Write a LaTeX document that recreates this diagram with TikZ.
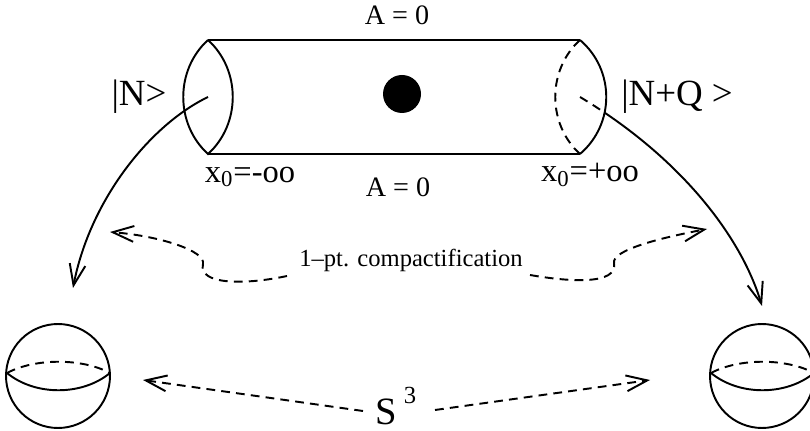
\documentclass[tikz,border=0pt]{standalone}
\usepackage{fontspec}
\setmainfont{Liberation Serif}
\usetikzlibrary{arrows.meta}
\begin{document}
\begin{tikzpicture}[x=0.02cm,y=-0.02cm,
  ln/.style={line width=1.1pt},
  dsh/.style={line width=1.1pt, dash pattern=on 5pt off 3.5pt},
  tip/.style={-{Straight Barb[length=12pt,width=9pt,line width=1.1pt]}},
  lbl/.style={inner sep=0pt, font=\fontsize{14}{16}\selectfont},
  azero/.style={inner sep=0pt, font=\fontsize{16}{18}\selectfont},
  big/.style={inner sep=0pt, font=\fontsize{21}{24}\selectfont},
  xl/.style={inner sep=0pt, font=\fontsize{18.5}{20}\selectfont},
  ]
\useasboundingbox (0,0) rectangle (810,431);
\clip (0,0) rectangle (810,431);
% cylinder
\coordinate (LT) at (208,40);
\coordinate (LB) at (208,154);
\coordinate (RT) at (580,40);
\coordinate (RB) at (580,154);
\draw[ln] (LT) -- (RT);
\draw[ln] (LB) -- (RB);
\draw[ln] (LT) .. controls (175,70) and (175,124) .. (LB) .. controls (241,124) and (241,70) .. (LT);
\draw[ln] (RT) .. controls (615,70) and (615,124) .. (RB);
\draw[dsh] (RT) .. controls (547,70) and (547,124) .. (RB);
\node[circle,fill,inner sep=0pt,minimum size=0.76cm] (dot) at (402,94) {};
% labels
\node[azero] (atop) at (397,15) {A = 0};
\node[azero] (abot) at (398,187) {A = 0};
\node[big] (nl) at (139,97) {|N>};
\node[big] (nr) at (677,97) {|N+Q >};
\node[xl] (xl1) at (250,177) {x\textsubscript{0}=-oo};
\node[xl] (xr1) at (590,175) {x\textsubscript{0}=+oo};
% left big arrow
\coordinate (Lc) at (208,97);
\coordinate (Ltip) at (73,288);
\draw[ln,tip] (Lc) .. controls (150,125) and (90,200) .. (Ltip);
% right big arrow
\coordinate (Rc) at (580,97);
\coordinate (Rtip) at (762,306);
\begin{scope}
\clip (RT) .. controls (615,70) and (615,124) .. (RB) -- (500,154) -- (500,40) -- cycle;
\draw[dsh] (Rc) .. controls (680,157) and (741,236) .. (Rtip);
\end{scope}
\begin{scope}
\clip (RT) .. controls (615,70) and (615,124) .. (RB) -- (580,431) -- (810,431) -- (810,0) -- (580,0) -- cycle;
\draw[ln,tip] (Rc) .. controls (680,157) and (741,236) .. (Rtip);
\end{scope}
% spheres
\node[circle,draw,line width=1.1pt,inner sep=0pt,minimum size=2.08cm] (sph1) at (58,376) {};
\draw[ln] (7,373) .. controls (35,396) and (82,396) .. (110,373);
\draw[dsh] (7,373) .. controls (35,358) and (82,358) .. (110,373);
\node[circle,draw,line width=1.1pt,inner sep=0pt,minimum size=2.08cm] (sph2) at (762,376) {};
\draw[ln] (711,373) .. controls (739,396) and (786,396) .. (814,373);
\draw[dsh] (711,373) .. controls (739,358) and (786,358) .. (814,373);
% compactification
\node[lbl] (comp) at (411,260) {1--pt. compactification};
\coordinate (c1s) at (287,276);
\coordinate (c1t) at (110,232);
\coordinate (c2s) at (530,275);
\coordinate (c2t) at (707,229);
\draw[dsh,tip] (c1s) .. controls (245,285) and (198,285) .. (203,264) .. controls (206,251) and (160,236) .. (c1t);
\draw[dsh,tip] (c2s) .. controls (570,282) and (618,285) .. (614,263) .. controls (612,250) and (660,238) .. (c2t);
% S3
\node[inner sep=0pt,font=\fontsize{22}{24}\selectfont] (s3) at (396,406) {S\,\raisebox{0.55em}{\fontsize{14}{14}\selectfont 3}};
\coordinate (s3l) at (363,411);
\coordinate (s3lt) at (143,380);
\coordinate (s3r) at (435,410);
\coordinate (s3rt) at (650,380);
\draw[dsh,tip] (s3l) -- (s3lt);
\draw[dsh,tip] (s3r) -- (s3rt);
\end{tikzpicture}
\end{document}
